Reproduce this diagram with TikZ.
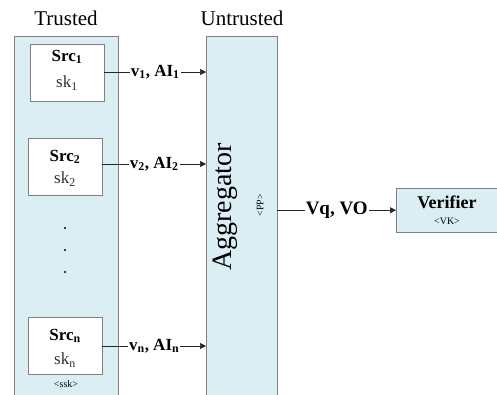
\documentclass[tikz,border=0pt]{standalone}
\usepackage{fontspec}
\setmainfont{Liberation Serif}
\usetikzlibrary{arrows.meta}
\definecolor{paleblue}{HTML}{DBEEF4}
\definecolor{edgegray}{HTML}{808080}
\tikzset{
  zone/.style={draw=edgegray, fill=paleblue, anchor=north west, inner sep=0pt},
  srcbox/.style={draw=edgegray, fill=white, anchor=north west, inner sep=0pt, minimum width=74pt, minimum height=57pt},
  flow/.style={draw=black!85, line width=0.6pt, -{Triangle[length=6pt,width=6pt]}},
  flowlabel/.style={font=\fontsize{17}{19}\selectfont\bfseries, fill=white, inner sep=1pt},
  srctitle/.style={font=\fontsize{17}{19}\selectfont\bfseries},
  srckey/.style={font=\fontsize{17}{19}\selectfont, text=black!80},
  small/.style={font=\fontsize{10}{12}\selectfont}
}
\begin{document}
\begin{tikzpicture}[x=1pt,y=-1pt]
\useasboundingbox (0,0) rectangle (497,394);
\clip (0,0) rectangle (497,394);
% zones
\node[zone, minimum width=104pt, minimum height=370pt] (trusted) at (14,36) {};
\node[zone, minimum width=71pt, minimum height=370pt] (agg) at (206,36) {};
\node[zone, minimum width=112pt, minimum height=44pt] (ver) at (396,188) {};
% headings
\node[font=\fontsize{21}{25}\selectfont] (tlab) at (66,18) {Trusted};
\node[font=\fontsize{21}{25}\selectfont] (ulab) at (242,18) {Untrusted};
% sources
\node[srcbox] (s1) at (30,44) {};
\node[srcbox] (s2) at (28,138) {};
\node[srcbox] (sn) at (28,317) {};
\node[srctitle] (s1t) at (67,57) {Src\textsubscript{1}};
\node[srckey] (s1k) at (67,83) {sk\textsubscript{1}};
\node[srctitle] (s2t) at (65,157) {Src\textsubscript{2}};
\node[srckey] (s2k) at (65,179) {sk\textsubscript{2}};
\node[srctitle] (snt) at (65,336) {Src\textsubscript{n}};
\node[srckey] (snk) at (65,360) {sk\textsubscript{n}};
\node[small] (ssk) at (66,384) {<ssk>};
% dots
\fill (65,228) circle (1.1pt);
\fill (65,250) circle (1.1pt);
\fill (65,272) circle (1.1pt);
% aggregator text
\node[rotate=90, font=\fontsize{28}{32}\selectfont] (aggt) at (225,207) {Aggregator};
\node[rotate=90, small] (pp) at (260,205) {<PP>};
% verifier text
\node[font=\fontsize{18}{20}\selectfont\bfseries] (vert) at (447,202) {Verifier};
\node[small] (vk) at (447,221) {<VK>};
% connectors
\coordinate (a1) at (206,72);
\coordinate (a2) at (206,164);
\coordinate (an) at (206,346);
\draw[flow] (s1.east |- a1) -- node[flowlabel] {v\textsubscript{1}, AI\textsubscript{1}} (a1);
\draw[flow] (s2.east |- a2) -- node[flowlabel] {v\textsubscript{2}, AI\textsubscript{2}} (a2);
\draw[flow] (sn.east |- an) -- node[flowlabel] {v\textsubscript{n}, AI\textsubscript{n}} (an);
\draw[flow] (agg.east |- ver.west) -- node[flowlabel, font=\fontsize{19}{21}\selectfont\bfseries] {Vq, VO} (ver.west);
\end{tikzpicture}
\end{document}
